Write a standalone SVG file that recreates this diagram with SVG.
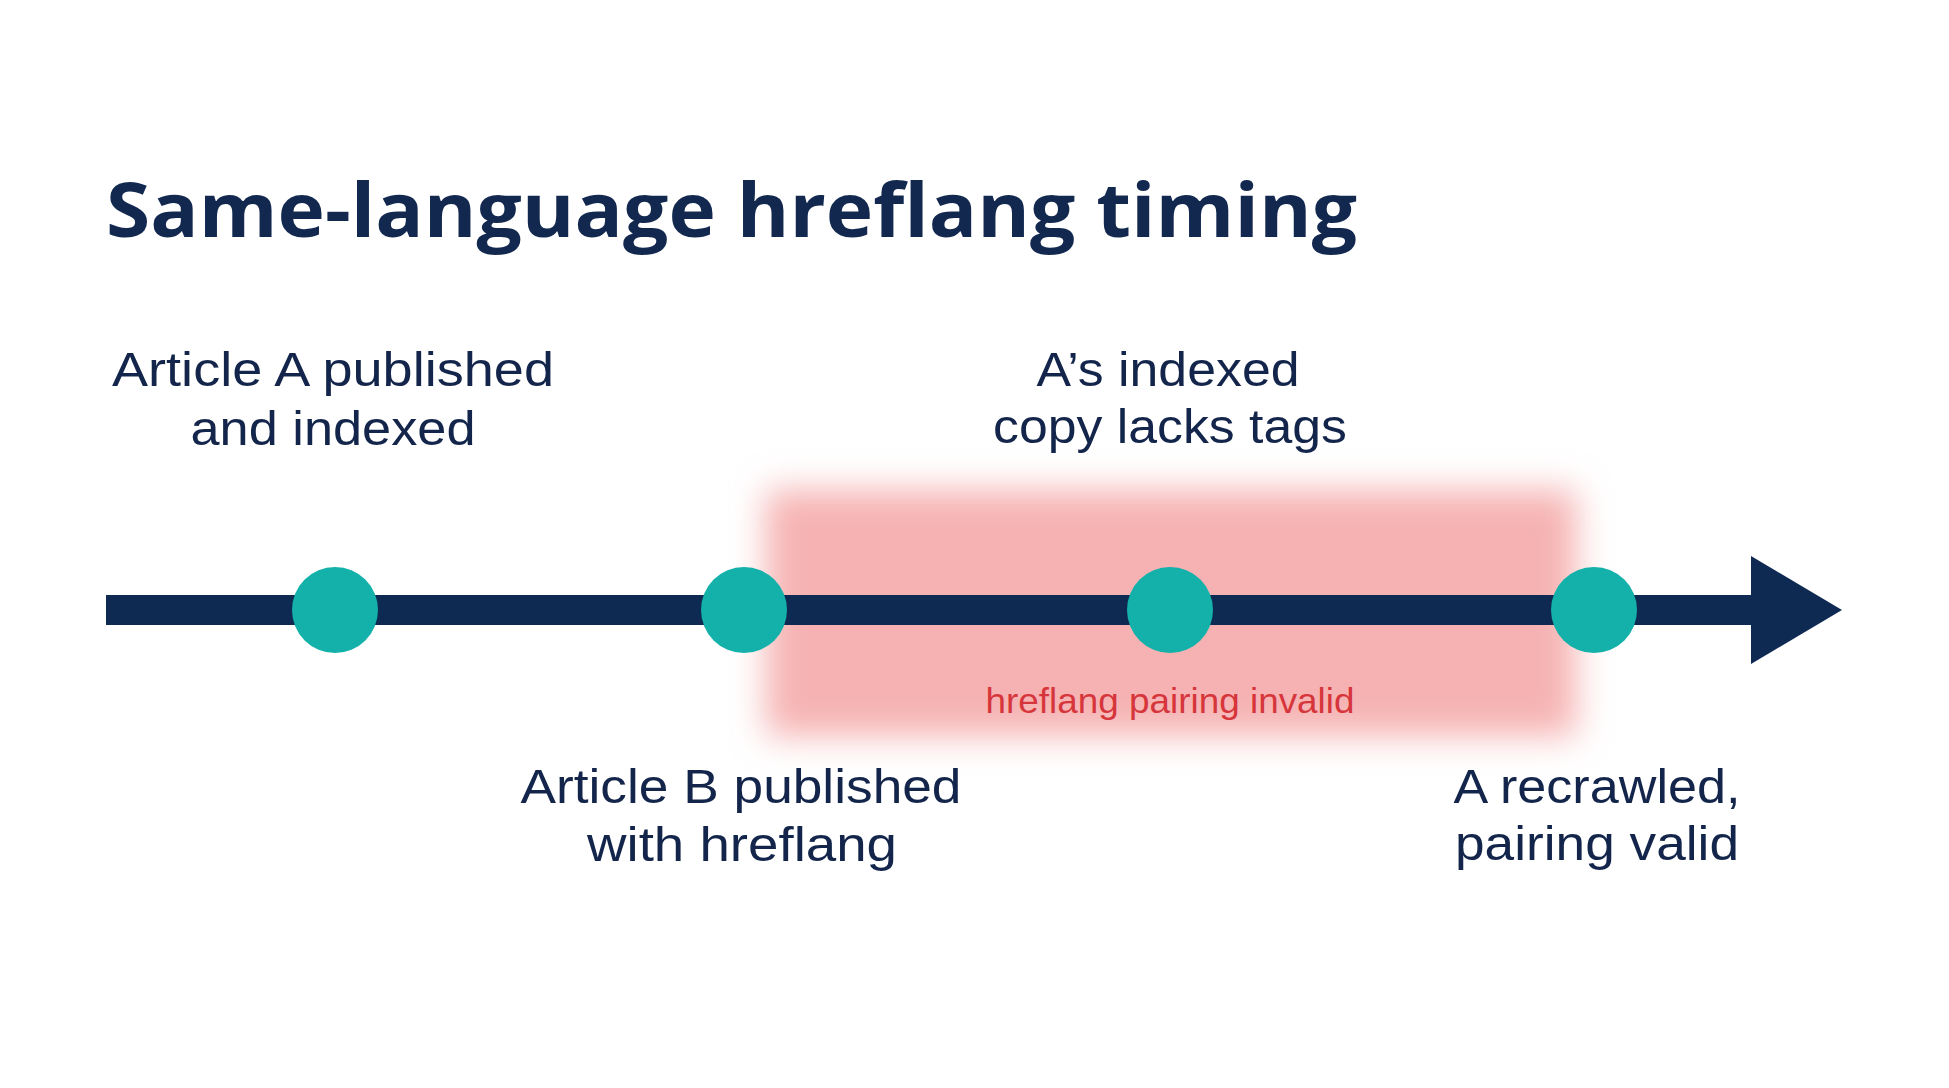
<svg xmlns="http://www.w3.org/2000/svg" width="1949" height="1088" viewBox="0 0 1949 1088">
  <defs>
    <filter id="soft" x="-20%" y="-40%" width="140%" height="180%">
      <feGaussianBlur stdDeviation="17"/>
    </filter>
    <style>
      .title { font-family: "Open Sans", "Liberation Sans", sans-serif; font-weight: 700; font-size: 76px; fill: #13284f; }
      .lbl { font-family: "Liberation Sans", "Open Sans", sans-serif; font-weight: 400; font-size: 49px; fill: #13254a; text-anchor: middle; }
      .warn { font-family: "Liberation Sans", "Open Sans", sans-serif; font-weight: 400; font-size: 35px; fill: #d6363b; text-anchor: middle; }
      .dot { fill: #14b1ab; }
      .bar { fill: #0f2a52; }
    </style>
  </defs>
  <rect width="1949" height="1088" fill="#ffffff"/>

  <g id="title">
    <text class="title" x="106" y="237" textLength="1251" lengthAdjust="spacingAndGlyphs">Same-language hreflang timing</text>
  </g>

  <g id="invalid-window">
    <rect x="766" y="490" width="810" height="246" fill="#f6b2b2" filter="url(#soft)"/>
    <text class="warn" x="1170" y="713" textLength="369" lengthAdjust="spacingAndGlyphs">hreflang pairing invalid</text>
  </g>

  <g id="connectors">
    <rect class="bar" x="106" y="595" width="1650" height="30"/>
    <polygon class="bar" points="1751,556 1842,610 1751,664"/>
  </g>

  <g id="node-a-published">
    <circle class="dot" cx="335" cy="610" r="43"/>
    <text class="lbl" x="333" y="386" textLength="442" lengthAdjust="spacingAndGlyphs">Article A published</text>
    <text class="lbl" x="333" y="445" textLength="285" lengthAdjust="spacingAndGlyphs">and indexed</text>
  </g>

  <g id="node-b-published">
    <circle class="dot" cx="744" cy="610" r="43"/>
    <text class="lbl" x="741" y="803" textLength="441" lengthAdjust="spacingAndGlyphs">Article B published</text>
    <text class="lbl" x="742" y="861" textLength="310" lengthAdjust="spacingAndGlyphs">with hreflang</text>
  </g>

  <g id="node-a-indexed-copy">
    <circle class="dot" cx="1170" cy="610" r="43"/>
    <text class="lbl" x="1168" y="386" textLength="263" lengthAdjust="spacingAndGlyphs">A’s indexed</text>
    <text class="lbl" x="1170" y="443" textLength="354" lengthAdjust="spacingAndGlyphs">copy lacks tags</text>
  </g>

  <g id="node-a-recrawled">
    <circle class="dot" cx="1594" cy="610" r="43"/>
    <text class="lbl" x="1597" y="803" textLength="287" lengthAdjust="spacingAndGlyphs">A recrawled,</text>
    <text class="lbl" x="1597" y="860" textLength="284" lengthAdjust="spacingAndGlyphs">pairing valid</text>
  </g>
</svg>
